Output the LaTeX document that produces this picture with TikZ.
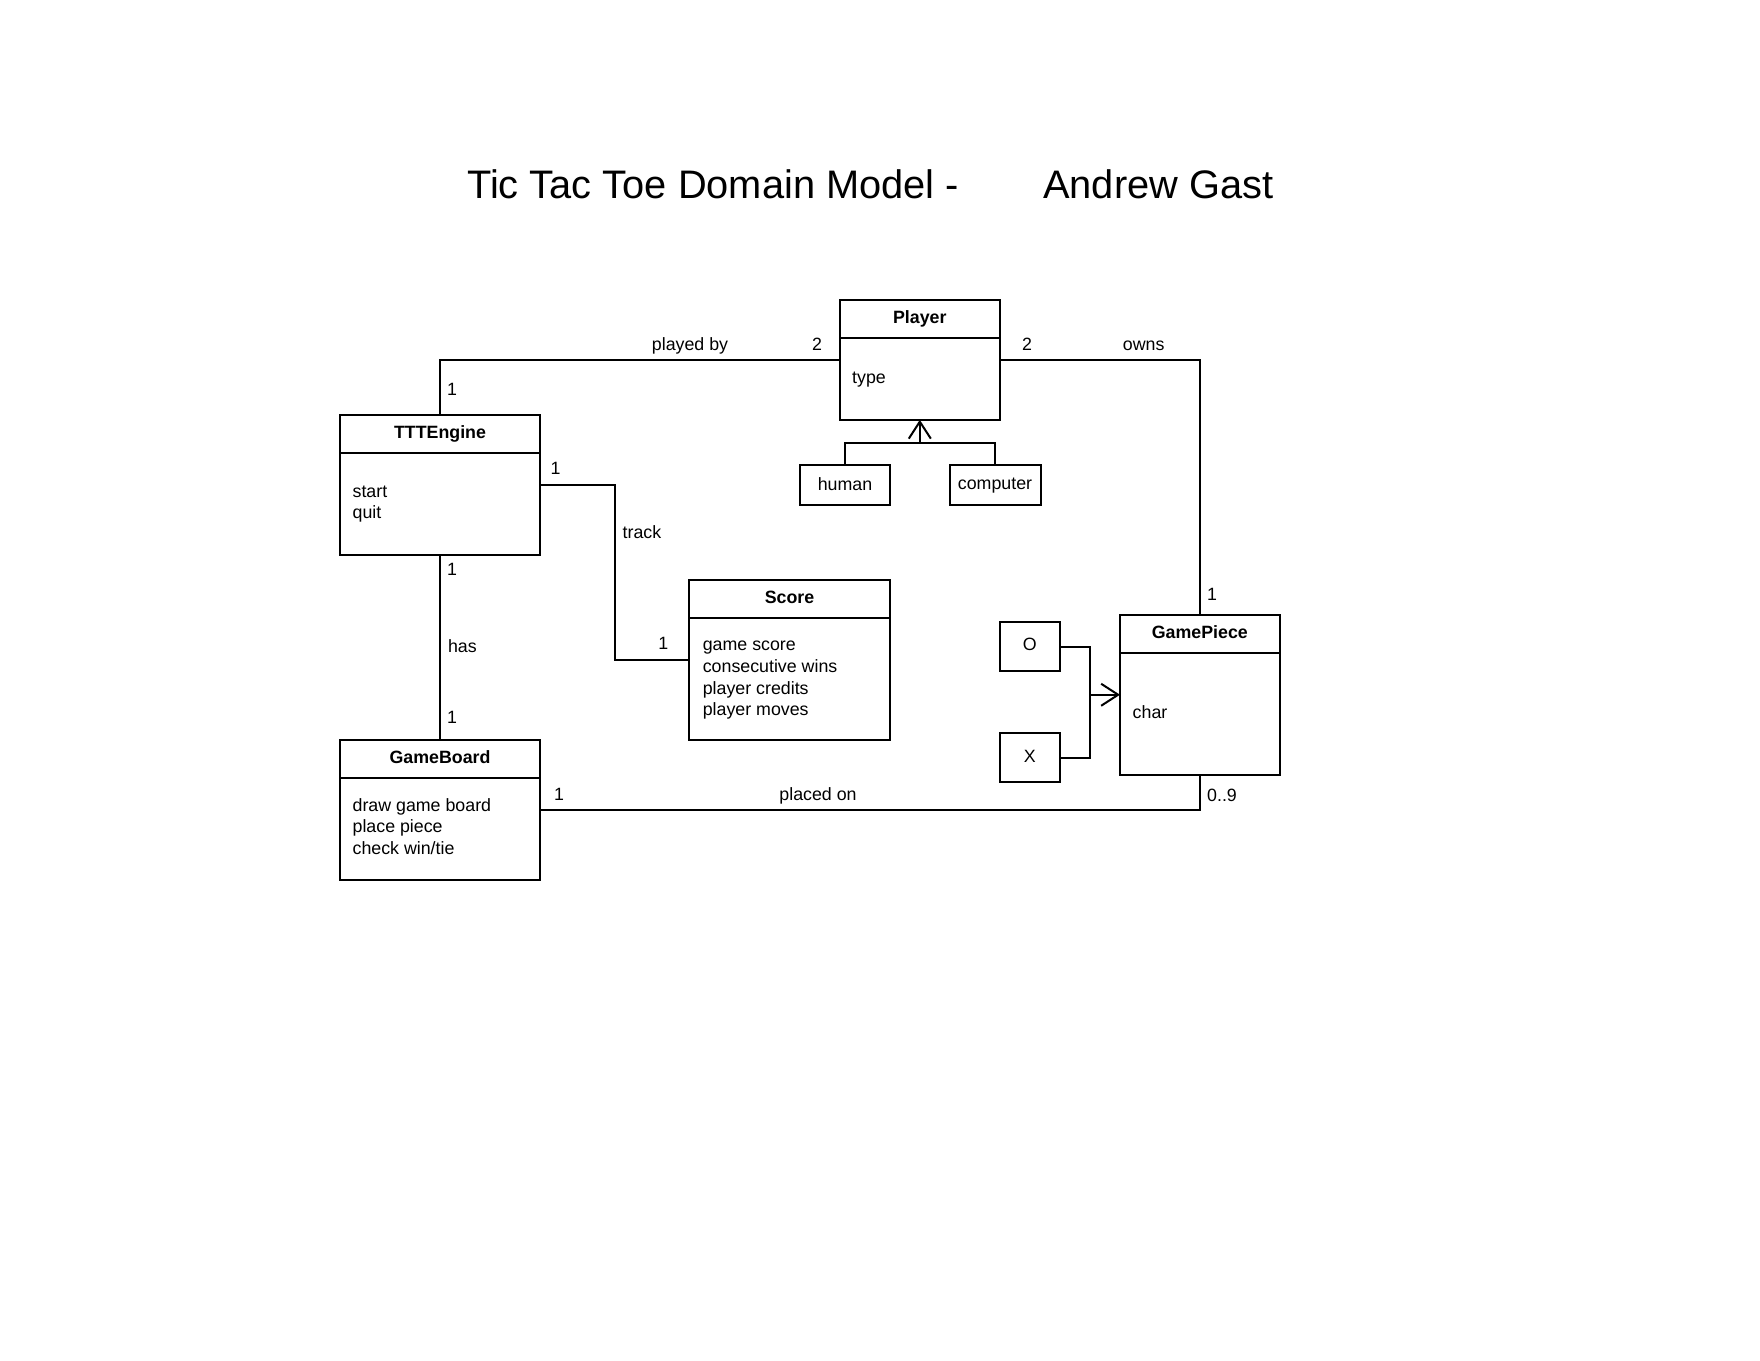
\documentclass[tikz,border=0pt]{standalone}
\usepackage{fontspec}
\setmainfont{Liberation Sans}
\usetikzlibrary{arrows.meta}
\begin{document}
\begin{tikzpicture}[x=1pt,y=-1pt,
  clsbox/.style={draw, line width=2pt, inner sep=0pt, outer sep=0pt, anchor=north west},
  conn/.style={line width=2pt},
  opentip/.style={line width=2pt,-{Straight Barb[length=17pt,width=22pt]}},
  txt/.style={inner sep=0pt, font=\fontsize{17.8}{21.6}\selectfont},
  ttl/.style={inner sep=0pt, font=\fontsize{17.8}{21.6}\selectfont\bfseries, anchor=base},
  attr/.style={txt, anchor=base west},
  lbl/.style={txt, anchor=base},
  bigt/.style={inner sep=0pt, font=\fontsize{39.8}{44}\selectfont, anchor=base west}]
\useasboundingbox[fill=white] (0,0) rectangle (1760,1360);

% title
\node[bigt] (title1) at (467,198.3) {Tic Tac Toe Domain Model -};
\node[bigt] (title2) at (1043,198.3) {Andrew Gast};

% classes
\node[clsbox, minimum width=160.4pt, minimum height=120.1pt] (player) at (839.6,299.7) {};
\draw[conn] ([yshift=-38.2pt]player.north west) -- ([yshift=-38.2pt]player.north east);
\node[ttl] (playerT) at (919.8,323) {Player};
\node[attr] (playerA) at (852,383.5) {type};

\node[clsbox, minimum width=200pt, minimum height=139.5pt] (tte) at (340,415) {};
\draw[conn] ([yshift=-38.2pt]tte.north west) -- ([yshift=-38.2pt]tte.north east);
\node[ttl] (tteT) at (440,438.5) {TTTEngine};
\node[attr] (tteA1) at (352.4,497) {start};
\node[attr] (tteA2) at (352.4,518.4) {quit};

\node[clsbox, minimum width=90pt, minimum height=40.3pt] (human) at (800,464.7) {};
\node[lbl] (humanT) at (845,490.3) {human};
\node[clsbox, minimum width=90.9pt, minimum height=40.3pt] (computer) at (949.6,464.7) {};
\node[lbl] (computerT) at (995,489.5) {computer};

\node[clsbox, minimum width=201pt, minimum height=159.7pt] (score) at (689,580) {};
\draw[conn] ([yshift=-38.2pt]score.north west) -- ([yshift=-38.2pt]score.north east);
\node[ttl] (scoreT) at (789.5,603.5) {Score};
\node[attr] (scoreA1) at (702.6,650.8) {game score};
\node[attr] (scoreA2) at (702.6,672.4) {consecutive wins};
\node[attr] (scoreA3) at (702.6,694.0) {player credits};
\node[attr] (scoreA4) at (702.6,715.6) {player moves};

\node[clsbox, minimum width=159.6pt, minimum height=159.5pt] (gp) at (1120,615) {};
\draw[conn] ([yshift=-38.2pt]gp.north west) -- ([yshift=-38.2pt]gp.north east);
\node[ttl] (gpT) at (1199.8,638.5) {GamePiece};
\node[attr] (gpA) at (1132.5,718.1) {char};

\node[clsbox, minimum width=59.6pt, minimum height=49.4pt] (obox) at (1000,621.8) {};
\node[lbl] (oT) at (1029.8,650.8) {O};
\node[clsbox, minimum width=59.6pt, minimum height=49.3pt] (xbox) at (1000,733) {};
\node[lbl] (xT) at (1029.8,762) {X};

\node[clsbox, minimum width=200pt, minimum height=140.3pt] (gb) at (340,739.7) {};
\draw[conn] ([yshift=-38.2pt]gb.north west) -- ([yshift=-38.2pt]gb.north east);
\node[ttl] (gbT) at (440,763) {GameBoard};
\node[attr] (gbA1) at (352.4,811.3) {draw game board};
\node[attr] (gbA2) at (352.4,832.9) {place piece};
\node[attr] (gbA3) at (352.4,854.5) {check win/tie};

% connectors
\draw[conn] (tte.north) |- (player.west);
\draw[conn] (player.east) -| (gp.north);
\draw[conn] (tte.east) -- ++(75,0) |- (score.west);
\draw[conn] (tte.south) -- (gb.north);
\draw[conn] (gb.east) -| (gp.south);

% generalisation Player
\coordinate (inhj) at (919.8,443.4);
\draw[conn] (human.north) |- (inhj) -| (computer.north);
\draw[opentip] (inhj) -- (player.south);

% O / X to GamePiece
\coordinate (oxj) at (1089.9,0);
\draw[conn] (obox.east) -| (oxj |- xbox.east) -- (xbox.east);
\draw[opentip] (oxj |- gp.west) -- (gp.west);

% labels
\node[lbl] (l1) at (690,350) {played by};
\node[lbl] (l2) at (817,350) {2};
\node[lbl] (l3) at (452,395) {1};
\node[lbl] (l4) at (1027,350) {2};
\node[lbl] (l5) at (1143.7,350) {owns};
\node[lbl] (l6) at (1212,600.3) {1};
\node[lbl] (l7) at (555.6,474.5) {1};
\node[lbl] (l8) at (642,538.5) {track};
\node[lbl] (l9) at (663.3,649.5) {1};
\node[lbl] (l10) at (452,575.5) {1};
\node[lbl] (l11) at (462.4,652) {has};
\node[lbl] (l12) at (452,723.7) {1};
\node[lbl] (l13) at (559,800) {1};
\node[lbl] (l14) at (818,800) {placed on};
\node[lbl] (l15) at (1222,801) {0..9};
\end{tikzpicture}
\end{document}
